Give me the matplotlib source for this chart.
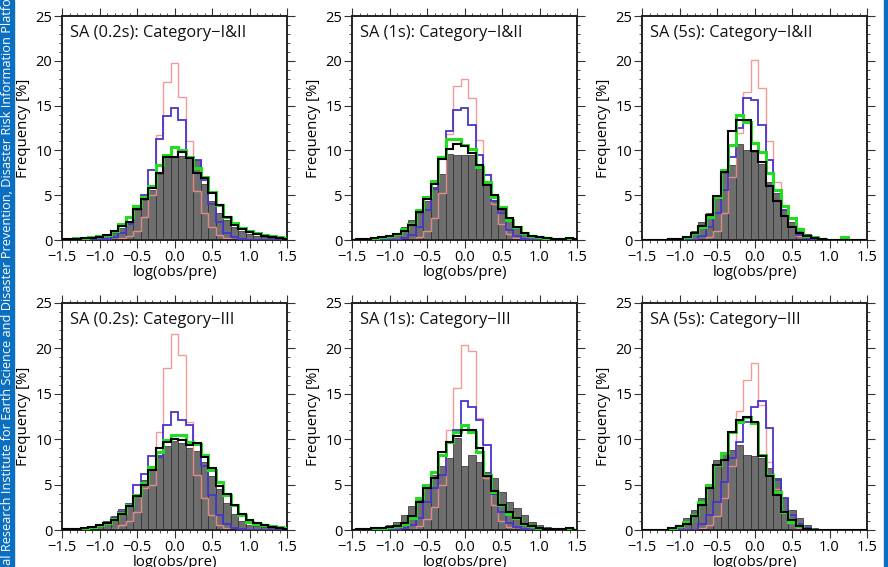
import numpy as np
import matplotlib
matplotlib.use("Agg")
import matplotlib.pyplot as plt
from matplotlib.ticker import MultipleLocator

plt.rcParams['font.family'] = ['Open Sans', 'DejaVu Sans']

# bin centres of log(obs/pre), step 0.1
centers = np.round(np.arange(-15, 16) * 0.1, 1)

titles = ["SA (0.2s): Category\u2212I&II", "SA (1s): Category\u2212I&II", "SA (5s): Category\u2212I&II",
          "SA (0.2s): Category\u2212III", "SA (1s): Category\u2212III", "SA (5s): Category\u2212III"]
xtick_labels = ['\u22121.5', '\u22121.0', '\u22120.5', '0.0', '0.5', '1.0', '1.5']

# frequency [%] per bin, 31 bins from -1.5 to 1.5
gray_a = [0.1, 0.1, 0.1, 0.2, 0.2, 0.3, 0.5, 0.8, 1.3, 2.0, 3.3, 4.5, 5.6, 7.4, 9.4, 9.3,
          9.4, 9.1, 8.9, 6.3, 4.3, 3.0, 2.2, 1.5, 1.0, 0.7, 0.5, 0.3, 0.2, 0.1, 0.1]
red_a = [0, 0, 0, 0, 0, 0, 0, 0.1, 0.2, 0.5, 1.0, 2.6, 5.0, 11.7, 17.6, 19.8,
         16.0, 11.0, 5.5, 3.0, 1.5, 0.6, 0.2, 0.1, 0, 0, 0, 0, 0, 0, 0]
blue_a = [0, 0, 0, 0, 0, 0, 0.1, 0.3, 0.8, 1.8, 3.8, 5.0, 7.8, 11.3, 13.8, 14.7,
          13.4, 9.3, 8.9, 6.7, 4.0, 2.0, 0.8, 0.3, 0.1, 0, 0, 0, 0, 0, 0]
green_a = [0.1, 0.1, 0.2, 0.2, 0.3, 0.4, 0.6, 1.0, 1.8, 2.6, 3.8, 4.8, 6.0, 8.4, 9.5, 10.4,
           10.0, 9.3, 8.0, 7.0, 5.4, 3.9, 2.6, 1.9, 1.3, 1.0, 0.8, 0.6, 0.4, 0.3, 0.2]
black_a = [0.1, 0.1, 0.1, 0.2, 0.2, 0.3, 0.6, 1.0, 1.6, 2.0, 3.5, 4.6, 5.8, 7.5, 9.3, 9.3,
           9.8, 9.1, 7.5, 6.9, 5.2, 3.9, 2.6, 1.7, 1.2, 0.9, 0.7, 0.5, 0.3, 0.2, 0.1]

gray_b = [0.0, 0.1, 0.1, 0.2, 0.3, 0.5, 0.8, 1.4, 2.2, 3.0, 4.4, 5.9, 7.4, 9.6, 9.5, 9.5,
          9.5, 8.4, 6.1, 4.5, 3.4, 2.3, 1.6, 0.9, 0.5, 0.3, 0.2, 0.1, 0.1, 0.0, 0.0]
red_b = [0, 0, 0, 0, 0, 0, 0, 0, 0.1, 0.3, 1.0, 2.5, 5.2, 11.8, 17.2, 18.0,
         15.9, 11.2, 7.4, 4.0, 1.8, 0.7, 0.2, 0.1, 0, 0, 0, 0, 0, 0, 0]
blue_b = [0, 0, 0, 0, 0, 0, 0, 0.2, 0.6, 1.5, 3.4, 5.7, 9.0, 12.2, 14.5, 14.7,
          12.8, 9.5, 7.2, 4.3, 3.0, 1.1, 0.4, 0.1, 0, 0, 0, 0, 0, 0, 0]
green_b = [0.0, 0.1, 0.1, 0.2, 0.3, 0.4, 0.7, 1.2, 1.8, 3.3, 4.8, 6.6, 9.3, 11.3, 11.3, 10.6,
           10.2, 8.2, 6.5, 4.8, 3.7, 2.2, 1.5, 0.8, 0.5, 0.3, 0.2, 0.1, 0.1, 0.1, 0.0]
black_b = [0.0, 0.1, 0.1, 0.2, 0.3, 0.4, 0.7, 1.0, 1.7, 3.1, 4.6, 6.3, 9.0, 10.2, 10.7, 10.5,
           9.7, 8.4, 6.1, 5.0, 3.5, 2.4, 1.5, 0.8, 0.5, 0.3, 0.2, 0.1, 0.1, 0.2, 0.1]

gray_c = [0, 0, 0, 0, 0.1, 0.2, 0.5, 1.0, 2.0, 3.0, 4.7, 7.5, 8.4, 10.7, 10.1, 9.8,
          8.5, 6.5, 5.2, 3.3, 2.0, 1.2, 0.7, 0.4, 0.2, 0.1, 0, 0, 0, 0, 0]
red_c = [0, 0, 0, 0, 0, 0, 0, 0, 0, 0.3, 1.0, 3.0, 7.0, 11.9, 16.5, 20.1,
         17.0, 11.0, 6.5, 3.5, 1.5, 0.5, 0.1, 0, 0, 0, 0, 0, 0, 0, 0]
blue_c = [0, 0, 0, 0, 0, 0, 0, 0, 0.4, 1.5, 3.0, 5.6, 9.3, 12.5, 15.8, 15.6,
          12.8, 8.9, 5.5, 3.3, 1.5, 0.6, 0.2, 0, 0, 0, 0, 0, 0, 0, 0]
green_c = [0, 0, 0, 0, 0.1, 0.1, 0.3, 0.8, 1.5, 2.6, 4.8, 7.8, 10.6, 13.9, 13.2, 10.8,
           9.8, 7.5, 5.6, 3.8, 2.5, 1.2, 0.5, 0.3, 0.1, 0, 0, 0.3, 0, 0, 0]
black_c = [0, 0, 0, 0, 0.1, 0.1, 0.3, 0.8, 1.6, 2.8, 4.9, 7.6, 12.2, 13.4, 13.4, 9.9,
           8.7, 6.0, 4.4, 2.7, 1.5, 0.8, 0.4, 0.2, 0.1, 0, 0, 0, 0, 0, 0]

gray_d = [0.1, 0.1, 0.2, 0.3, 0.4, 0.6, 1.0, 1.5, 2.3, 2.9, 4.0, 5.5, 6.8, 8.3, 9.3, 9.8,
          9.6, 9.0, 8.7, 7.5, 6.0, 4.5, 3.0, 1.8, 1.0, 0.6, 0.4, 0.3, 0.2, 0.1, 0.1]
red_d = [0, 0, 0, 0, 0, 0, 0, 0.1, 0.5, 1.0, 2.0, 4.6, 5.0, 10.8, 17.8, 21.6,
         19.3, 11.9, 6.1, 3.5, 1.6, 0.5, 0.2, 0, 0, 0, 0, 0, 0, 0, 0]
blue_d = [0, 0, 0.1, 0.1, 0.2, 0.5, 0.7, 1.3, 2.0, 2.9, 5.0, 6.2, 8.1, 8.0, 11.6, 13.0,
          12.1, 11.6, 9.5, 7.0, 3.9, 1.7, 0.7, 0.2, 0.1, 0, 0, 0, 0, 0, 0]
green_d = [0.1, 0.1, 0.1, 0.2, 0.3, 0.5, 0.8, 1.2, 1.9, 2.7, 3.9, 5.2, 6.9, 8.6, 9.9, 10.5,
           10.5, 9.7, 9.5, 8.3, 6.6, 5.3, 3.9, 2.8, 1.6, 0.9, 0.7, 0.6, 0.4, 0.3, 0.2]
black_d = [0.1, 0.1, 0.1, 0.2, 0.3, 0.5, 0.8, 1.1, 1.8, 2.6, 3.7, 5.0, 6.6, 9.0, 9.7, 10.0,
           9.9, 9.4, 9.6, 8.0, 6.8, 4.9, 4.0, 2.7, 1.8, 1.1, 0.8, 0.5, 0.3, 0.2, 0.1]

gray_e = [0, 0, 0.1, 0.2, 0.3, 0.5, 0.9, 1.7, 2.6, 3.5, 4.6, 6.1, 7.0, 7.9, 10.1, 7.0,
          8.3, 7.5, 6.4, 5.7, 4.2, 3.1, 2.4, 1.7, 0.9, 0.5, 0.3, 0.2, 0.1, 0, 0]
red_e = [0, 0, 0, 0, 0, 0, 0, 0, 0.1, 0.4, 1.2, 2.5, 5.0, 11.0, 15.6, 20.4,
         19.7, 12.3, 5.7, 2.8, 1.0, 0.3, 0.1, 0, 0, 0, 0, 0, 0, 0, 0]
blue_e = [0, 0, 0, 0, 0, 0, 0, 0.2, 0.6, 1.3, 3.1, 4.6, 6.1, 9.7, 11.0, 14.2,
          13.6, 12.1, 9.4, 4.0, 2.0, 0.8, 0.3, 0.1, 0, 0, 0, 0, 0, 0, 0]
green_e = [0, 0.1, 0.1, 0.2, 0.2, 0.3, 0.4, 0.7, 1.3, 3.5, 5.0, 6.4, 8.3, 9.7, 10.8, 11.6,
           10.8, 8.6, 6.1, 4.2, 2.8, 1.8, 1.3, 0.7, 0.4, 0.2, 0.1, 0.1, 0.1, 0.1, 0]
black_e = [0, 0.1, 0.1, 0.2, 0.2, 0.3, 0.4, 0.8, 1.5, 3.1, 4.6, 5.7, 8.6, 9.7, 10.3, 11.0,
           11.0, 9.0, 5.9, 4.3, 2.8, 2.0, 1.3, 0.7, 0.4, 0.2, 0.1, 0.1, 0.1, 0.2, 0]

gray_f = [0, 0, 0, 0.1, 0.2, 0.4, 1.3, 2.2, 3.5, 4.8, 7.7, 8.6, 8.8, 9.4, 8.3, 8.1,
          7.9, 6.8, 5.7, 3.5, 2.2, 1.3, 0.6, 0.2, 0.1, 0, 0, 0, 0, 0, 0]
red_f = [0, 0, 0, 0, 0, 0, 0, 0, 0.2, 0.6, 1.5, 3.5, 7.0, 13.1, 16.5, 18.4,
         13.8, 7.5, 4.5, 2.0, 0.8, 0.2, 0, 0, 0, 0, 0, 0, 0, 0, 0]
blue_f = [0, 0, 0, 0, 0, 0, 0, 0, 0.7, 1.7, 3.1, 5.3, 7.9, 9.7, 11.9, 13.5,
          14.2, 11.2, 5.5, 3.5, 1.7, 0.7, 0.2, 0, 0, 0, 0, 0, 0, 0, 0]
green_f = [0, 0, 0, 0, 0.2, 0.4, 0.9, 1.7, 3.1, 5.0, 7.2, 8.5, 10.8, 11.9, 12.5, 11.8,
           8.3, 6.1, 4.2, 2.0, 0.9, 0.4, 0.1, 0, 0, 0, 0, 0, 0, 0, 0]
black_f = [0, 0, 0, 0, 0.2, 0.4, 0.7, 1.5, 2.8, 4.6, 7.2, 7.7, 10.8, 12.1, 12.4, 11.9,
           8.1, 5.9, 3.9, 2.0, 1.1, 0.4, 0.1, 0, 0, 0, 0, 0, 0, 0, 0]

panels = [
    (gray_a, red_a, blue_a, green_a, black_a),
    (gray_b, red_b, blue_b, green_b, black_b),
    (gray_c, red_c, blue_c, green_c, black_c),
    (gray_d, red_d, blue_d, green_d, black_d),
    (gray_e, red_e, blue_e, green_e, black_e),
    (gray_f, red_f, blue_f, green_f, black_f),
]

W, H = 888, 567
fig = plt.figure(figsize=(W / 100, H / 100), dpi=100)

# blue side strips
fig.patches.append(plt.Rectangle((0, 0), 14 / W, 1, transform=fig.transFigure,
                                 color='#0b6fc1', zorder=0))
fig.patches.append(plt.Rectangle((884 / W, 0), 4 / W, 1, transform=fig.transFigure,
                                 color='#0b6fc1', zorder=0))
fig.text(7.5 / W, -38 / H,
         "National Research Institute for Earth Science and Disaster Prevention, "
         "Disaster Risk Information Platform",
         rotation=90, rotation_mode='anchor', ha='left', va='center',
         color='white', fontsize=9.2)

lefts = [62, 352, 642]
tops = [16, 303]
bottoms = [240, 530]
edges = np.append(centers - 0.05, centers[-1] + 0.05)

for idx, (gray, red, blue, green, black) in enumerate(panels):
    r, c = divmod(idx, 3)
    l = lefts[c] / W
    b = 1 - bottoms[r] / H
    ax = fig.add_axes([l, b, 225 / W, (bottoms[r] - tops[r]) / H])

    ax.bar(centers, gray, width=0.1, color='#6e6e6e', edgecolor='#2a2a2a',
           linewidth=0.5, zorder=1)
    ax.stairs(red, edges, baseline=0, color='#f29090', linewidth=1.0, alpha=0.9, zorder=2)
    ax.stairs(blue, edges, baseline=0, color='#4a35cc', linewidth=1.3, zorder=3)
    ax.stairs(green, edges, baseline=0, color='#22dd22', linewidth=2.2, zorder=4)
    ax.stairs(black, edges, baseline=0, color='black', linewidth=1.5, zorder=5)

    ax.set_xlim(-1.5, 1.5)
    ax.set_ylim(0, 25)
    ax.xaxis.set_minor_locator(MultipleLocator(0.1))
    ax.yaxis.set_major_locator(MultipleLocator(5))
    ax.yaxis.set_minor_locator(MultipleLocator(1))
    ax.set_xticks(np.arange(-1.5, 1.51, 0.5))
    ax.set_xticklabels(xtick_labels)
    ax.tick_params(which='both', direction='out', top=True, right=True,
                   labeltop=False, labelright=False, labelsize=10.5, color='#333333')
    ax.tick_params(which='major', length=5.5, width=0.8)
    ax.tick_params(which='minor', length=2.5, width=0.6)
    ax.tick_params(axis='x', which='major', pad=2)
    ax.tick_params(axis='y', which='major', pad=1.5)
    for s in ax.spines.values():
        s.set_linewidth(1.4)
        s.set_color('#222222')

    ax.set_xlabel('log(obs/pre)', fontsize=10.8, labelpad=0)
    ax.set_ylabel('Frequency [%]', fontsize=10.8, labelpad=3)
    ax.text(0.035, 0.96, titles[idx], transform=ax.transAxes, ha='left', va='top',
            fontsize=11.8, color='#111111')

fig.savefig('out.png', dpi=100)
